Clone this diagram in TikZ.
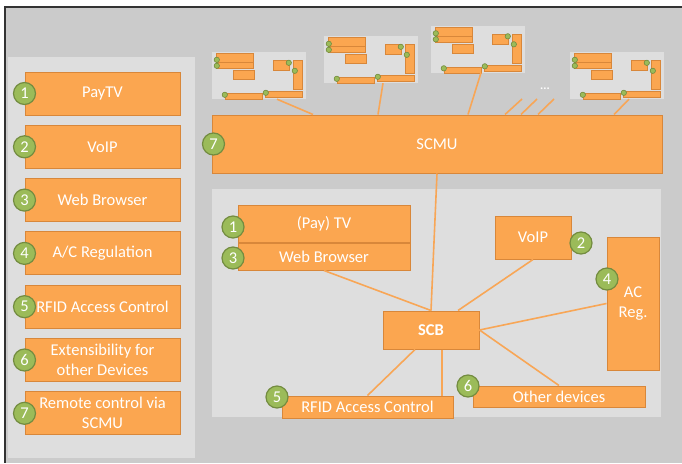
\documentclass[tikz,border=0pt]{standalone}
\usepackage{fontspec}
\setmainfont{Carlito}
\usetikzlibrary{positioning, calc}

\definecolor{bggray}{RGB}{203,203,203}
\definecolor{panelgray}{RGB}{222,222,222}
\definecolor{boxfill}{RGB}{251,166,80}
\definecolor{boxline}{RGB}{216,135,58}
\definecolor{link}{RGB}{248,166,86}
\definecolor{numfill}{RGB}{155,187,89}
\definecolor{numline}{RGB}{115,140,64}

\begin{document}
\begin{tikzpicture}[x=1pt, y=-1pt,
    every node/.style = {font=\fontsize{16.5}{20}\selectfont, text=white, align=center, inner sep=0pt},
    blk/.style = {draw=boxline, fill=boxfill, line width=1pt, minimum width=#1},
    blk/.default = 155pt,
    num/.style = {draw=numline, fill=numfill, circle, line width=1.2pt, minimum size=22pt},
    pane/.style = {fill=panelgray, minimum width=94pt, minimum height=47pt},
    minibox/.style = {draw=boxline, fill=boxfill, line width=0.9pt},
    minidot/.style = {draw=numline, fill=numfill, line width=0.6pt},
    conn/.style = {draw=link, line width=1.6pt}]
    \useasboundingbox (0,0) rectangle (682,463);

    % frame and panels
    \fill[white] (0,0) rectangle (682,463);
    \fill[bggray] (5,7) rectangle (682,463);
    \draw[line width=1.3pt, black!80] (682,7) -- (5,7) -- (5,463);
    \fill[panelgray] (8,57) rectangle (195,458);
    \fill[panelgray] (212,189) rectangle (661,417);

    % feature list
    \foreach \t [count=\i] in {PayTV, VoIP, Web Browser, {A/C Regulation}, RFID Access Control,
        Extensibility for\\other Devices, Remote control via\\SCMU} {
      \node[blk, minimum height=43pt] (f\i) at (102.5, 40.2+53.3*\i) {\t};
      \node[num] (n\i) at (f\i.west) {\i};
    }

    % small copies of the board
    \node[pane] (m1) at (259,75.5) {};
    \node[pane] (m2) at (371,59.5) {};
    \node[pane] (m3) at (478,49) {};
    \node[pane] (m4) at (617,75.5) {};
    \foreach \p in {m1,m2,m3,m4} {
      \begin{scope}[shift={(\p.north west)}]
        \path[minibox] (5,2) rectangle (42,11) (5,11) rectangle (42,17) (22,19) rectangle (43,28)
          (62,9) rectangle (78,19) (82,9) rectangle (91,38) (14,42) rectangle (51,48) (54,40) rectangle (91,46);
        \path[minidot] (5,8) circle (2.7pt) (5,14) circle (2.7pt) (77,11) circle (2.7pt)
          (83,19) circle (2.7pt) (13,43) circle (2.7pt) (54,41) circle (2.7pt);
      \end{scope}
    }
    \node[font=\fontsize{12}{12}\selectfont\bfseries] (more) at (545,89) {...};

    % SCMU and board
    \node[blk=450pt, minimum height=58pt] (scmu) at (437,144) {SCMU};
    \node[num] (s7) at ([xshift=2pt]scmu.west) {7};

    \node[blk=172pt, minimum height=37pt] (tv) at (324,223.5) {(Pay) TV};
    \node[blk=172pt, minimum height=27pt, below=0pt of tv] (web) {Web Browser};
    \node[blk=76pt, minimum height=43pt] (voip) at (533,237.5) {VoIP};
    \node[blk=52pt, minimum height=133pt] (acreg) at (633,303.5) {AC\\Reg.};
    \node[blk=96pt, minimum height=38pt, font=\fontsize{16.5}{20}\selectfont\bfseries] (scb) at (431,330) {SCB};
    \node[blk=171pt, minimum height=22pt] (rfid) at (367.5,407) {RFID Access Control};
    \node[blk=172pt, minimum height=21pt] (other) at (559,396.5) {Other devices};

    \node[num] (r1) at (233,227) {1};
    \node[num] (r3) at (233,258) {3};
    \node[num] (r2) at (581,243) {2};
    \node[num] (r4) at (607,279) {4};
    \node[num] (r5) at (277,397) {5};
    \node[num] (r6) at (468,386) {6};

    % links
    \draw[conn] (scmu.south) -- (scb.north);
    \draw[conn] (web.south) -- (scb.north);
    \draw[conn] (voip.south) -- ([xshift=27pt]scb.north);
    \draw[conn] (acreg.west) -- (scb.east);
    \draw[conn] ([xshift=-16pt]scb.south) -- (rfid.north);
    \coordinate (s2) at ([xshift=11pt]scb.south);
    \draw[conn] (s2) -- (s2 |- rfid.north);
    \draw[conn] (scb.east) -- (other.north);

    \draw[conn] ([xshift=18pt]m1.south) -- ([xshift=-124pt]scmu.north);
    \draw[conn] ([xshift=12pt]m2.south) -- ([xshift=-59pt]scmu.north);
    \draw[conn] ([xshift=3pt]m3.south) -- ([xshift=31pt]scmu.north);
    \draw[conn] ([xshift=12pt]m4.south) -- ([xshift=177pt]scmu.north);
    \foreach \a/\b in {522/68, 537/84, 554/101} {
      \coordinate (e\a) at (\a,99);
      \draw[conn] (e\a) -- ([xshift=\b pt]scmu.north);
    }
\end{tikzpicture}
\end{document}
